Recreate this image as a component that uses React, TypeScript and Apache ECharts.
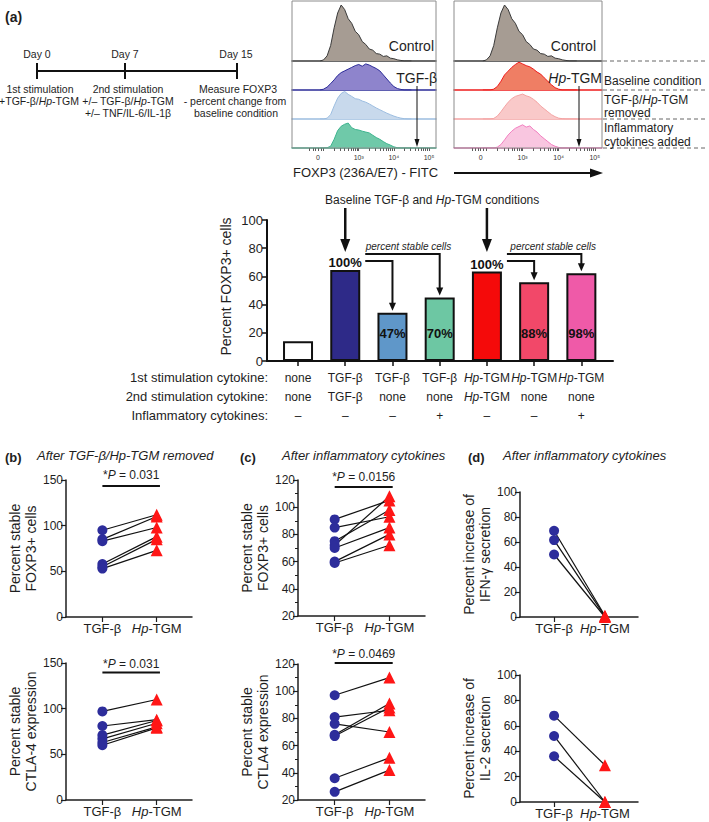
import React, { useEffect, useRef } from 'react';
import * as echarts from 'echarts';

const FONT = 'Liberation Sans, Arial, Helvetica, sans-serif';

// ---------- Histogram data (x in log decades of FOXP3-FITC, y relative count) ----------
const histX = [1.9, 2.0, 2.1, 2.2, 2.3, 2.4, 2.5, 2.6, 2.7, 2.8, 2.9, 3.0, 3.1, 3.2, 3.3, 3.4, 3.5, 3.6, 3.7, 3.8, 3.9, 4.0, 4.1, 4.2, 4.3, 4.4, 4.5];
const histControl = [0, 2, 9, 27, 58, 84, 98, 90, 74, 66, 52, 46, 34, 29, 21, 19, 13, 12, 8, 9, 5, 4, 2, 1, 0, 0, 0];
const histTgf = [0, 3, 10, 22, 35, 50, 60, 66, 72, 78, 84, 88, 82, 90, 86, 80, 74, 66, 52, 38, 24, 12, 5, 2, 0, 0, 0];
const histTgfRemoved = [0, 0, 3, 15, 45, 72, 88, 95, 85, 78, 70, 68, 62, 58, 52, 45, 38, 32, 26, 20, 15, 10, 6, 3, 1, 0, 0];
const histTgfInflam = [0, 0, 1, 6, 30, 60, 75, 82, 86, 70, 64, 62, 58, 55, 52, 44, 36, 30, 22, 15, 10, 4, 1, 0, 0, 0, 0];
const histHp = [0, 0, 0, 3, 12, 30, 52, 65, 78, 88, 96, 90, 84, 80, 72, 62, 55, 42, 30, 18, 8, 3, 0, 0, 0, 0, 0];
const histHpRemoved = [0, 0, 0, 2, 10, 25, 42, 58, 70, 78, 82, 86, 80, 76, 68, 58, 45, 35, 25, 15, 8, 3, 1, 0, 0, 0, 0];
const histHpInflam = [0, 0, 0, 0, 3, 12, 28, 45, 58, 68, 74, 80, 72, 76, 64, 55, 42, 32, 22, 12, 6, 2, 0, 0, 0, 0, 0];
const histLabelValues = [1.84, 3, 4, 5];
const histLabelTexts = ['0', '10³', '10⁴', '10⁵'];
const histTickValues = [1.6, 1.7, 1.76, 1.84, 1.92, 2.0, 2.3, 2.48, 2.6, 2.7, 2.78, 2.85, 2.9, 2.95, 3, 3.3, 3.48, 3.6, 3.7, 3.78, 3.85, 3.9, 3.95, 4, 4.3, 4.48, 4.6, 4.7, 4.78, 4.85, 4.9, 4.95, 5];

// ---------- Bar chart data ----------
const barValues = [14, 64.5, 34.3, 45, 63.4, 55.8, 62.2];
const barPctLabels = ['', '100%', '47%', '70%', '100%', '88%', '98%'];
const stim1 = ['none', 'TGF-β', 'TGF-β', 'TGF-β', 'Hp-TGM', 'Hp-TGM', 'Hp-TGM'];
const stim2 = ['none', 'TGF-β', 'none', 'none', 'Hp-TGM', 'none', 'none'];
const inflam = ['–', '–', '–', '+', '–', '–', '+'];
const rowHeaders = ['1st stimulation cytokine:', '2nd stimulation cytokine:', 'Inflammatory cytokines:'];
const barIdx = [0, 1, 2, 3, 4, 5, 6];

// ---------- Paired panels ----------
const pairCats = ['TGF-β', 'Hp-TGM'];
const bTopTgf = [95, 85, 83, 58, 55, 53];
const bTopHp = [112, 110, 98, 88, 85, 73];
const bBotTgf = [97, 81, 71, 67, 63, 60];
const bBotHp = [110, 88, 87, 84, 80, 79];
const cTopTgf = [91, 85, 75, 72, 70, 60, 59];
const cTopHp = [105, 93, 98, 108, 85, 80, 72];
const cBotTgf = [97, 81, 76, 68, 67, 36, 26];
const cBotHp = [110, 86, 70, 91, 88, 51, 42];
const dTopTgf = [69, 61.5, 50];
const dTopHp = [1, 0.5, 0];
const dBotTgf = [68, 52, 36];
const dBotHp = [29, 0, 0];
const pValues = ['0.031', '0.031', '0.0156', '0.0469'];

const C_DOT = '#2d2d9b';
const C_TRI = '#ff1616';
const INK = '#1e1e1e';

function hpRich(s: string) {
  return s.startsWith('Hp') ? '{i|Hp}{a|' + s.slice(2) + '}' : '{a|' + s + '}';
}

function buildOption() {
  const grid: any[] = [];
  const xAxis: any[] = [];
  const yAxis: any[] = [];
  const series: any[] = [];

  const rowsLeft = [
    { vals: histControl, line: '#3a3a3a', fill: '#a69c93' },
    { vals: histTgf, line: '#2b2b98', fill: '#8e84cc' },
    { vals: histTgfRemoved, line: '#9cbde0', fill: '#c8d9ec' },
    { vals: histTgfInflam, line: '#3fb48f', fill: '#6fc9a9' },
  ];
  const rowsRight = [
    { vals: histControl, line: '#3a3a3a', fill: '#a69c93' },
    { vals: histHp, line: '#ee1c1c', fill: '#ef7e64' },
    { vals: histHpRemoved, line: '#f4a3a3', fill: '#f9c9c9' },
    { vals: histHpInflam, line: '#f27fc0', fill: '#f9c6e0' },
  ];
  const boxes = [
    { left: 292, width: 144, rows: rowsLeft },
    { left: 454, width: 148, rows: rowsRight },
  ];
  const rowTops = [1, 61, 90, 119];
  const rowHeights = [60, 29, 29, 29];
  boxes.forEach((box) =>
    box.rows.forEach((row, r) => {
      const gi = grid.length;
      const bottom = r === 3;
      grid.push({ left: box.left, top: rowTops[r], width: box.width, height: rowHeights[r] });
      xAxis.push({
        type: 'value', gridIndex: gi, min: 1.1, max: 5.2, splitLine: { show: false },
        axisLine: { show: true, onZero: false, lineStyle: { color: row.line, width: 1.5 } },
        axisTick: { show: bottom, customValues: histTickValues, length: 3, lineStyle: { color: '#333', width: 0.8 } },
        axisLabel: {
          show: bottom, customValues: histLabelValues, fontSize: 7, color: '#333', margin: 6, fontFamily: FONT,
          formatter: (v: number) => histLabelTexts[histLabelValues.findIndex((h) => Math.abs(h - v) < 0.01)] ?? '',
        },
      });
      yAxis.push({ type: 'value', gridIndex: gi, min: 0, max: r === 0 ? 105 : 100, show: false });
      series.push({
        type: 'line', xAxisIndex: gi, yAxisIndex: gi, silent: true, symbol: 'none', showSymbol: false,
        data: histX.map((x, k) => [x, row.vals[k]]),
        lineStyle: { color: row.line, width: 1 }, areaStyle: { color: row.fill, opacity: 1 },
      });
    })
  );

  // ---- bar chart (grid 8)
  const axisRich = {
    a: { fontSize: 12, lineHeight: 19, color: INK, fontFamily: FONT },
    i: { fontSize: 12, lineHeight: 19, color: INK, fontFamily: FONT, fontStyle: 'italic' },
  };
  grid.push({ left: 267, top: 220, width: 346, height: 141 });
  xAxis.push({
    type: 'value', gridIndex: 8, min: -0.657, max: 6.67, splitLine: { show: false },
    axisLine: { show: true, onZero: false, lineStyle: { color: '#111', width: 2 } },
    axisTick: { show: true, customValues: barIdx, length: 5, lineStyle: { color: '#111', width: 1.5 } },
    axisLabel: {
      customValues: barIdx, margin: 7,
      formatter: (v: number) => {
        const i = Math.round(v);
        return hpRich(stim1[i]) + '\n' + hpRich(stim2[i]) + '\n' + hpRich(inflam[i]);
      },
      rich: axisRich,
    },
  });
  yAxis.push({
    type: 'value', gridIndex: 8, min: 0, max: 100, interval: 20, splitLine: { show: false },
    axisLine: { show: true, onZero: false, lineStyle: { color: '#111', width: 2 } },
    axisTick: { show: true, length: 5, lineStyle: { color: '#111', width: 1.5 } },
    axisLabel: { fontSize: 13, color: INK, margin: 4, fontFamily: FONT },
    name: 'Percent FOXP3+ cells', nameLocation: 'middle', nameGap: 34,
    nameTextStyle: { fontSize: 14, color: INK, fontFamily: FONT, padding: [0, 0, 0, 8] },
  });
  const barColors = ['#ffffff', '#2e2a88', '#5f97c9', '#6dc7a3', '#f50a0a', '#f24869', '#ef5aa8'];
  series.push({
    type: 'bar', xAxisIndex: 8, yAxisIndex: 8, barWidth: 30, silent: true,
    itemStyle: { borderColor: '#111', borderWidth: 2 },
    data: barValues.map((v, i) => ({
      value: [i, v],
      itemStyle: { color: barColors[i], borderColor: '#111', borderWidth: 2 },
      label: {
        show: barPctLabels[i] !== '',
        position: i === 1 || i === 4 ? 'top' : 'insideBottom',
        distance: i === 1 || i === 4 ? 1 : 21,
        formatter: barPctLabels[i],
        fontWeight: 'bold', fontSize: 13, color: '#111', fontFamily: FONT,
      },
    })),
  });

  // ---- paired panels
  const panels = [
    { rect: { left: 66, top: 480, width: 126, height: 137 }, tgf: bTopTgf, hp: bTopHp, min: 0, max: 150, interval: 50, minor: false, name: 'Percent stable\nFOXP3+ cells' },
    { rect: { left: 66, top: 663, width: 126, height: 137 }, tgf: bBotTgf, hp: bBotHp, min: 0, max: 150, interval: 50, minor: false, name: 'Percent stable\nCTLA-4 expression' },
    { rect: { left: 298, top: 480, width: 127, height: 136 }, tgf: cTopTgf, hp: cTopHp, min: 20, max: 120, interval: 20, minor: true, name: 'Percent stable\nFOXP3+ cells' },
    { rect: { left: 298, top: 664, width: 127, height: 136 }, tgf: cBotTgf, hp: cBotHp, min: 20, max: 120, interval: 20, minor: true, name: 'Percent stable\nCTLA4 expression' },
    { rect: { left: 520, top: 492, width: 118, height: 125 }, tgf: dTopTgf, hp: dTopHp, min: 0, max: 100, interval: 20, minor: false, name: 'Percent increase of\nIFN-γ secretion' },
    { rect: { left: 520, top: 675, width: 118, height: 127 }, tgf: dBotTgf, hp: dBotHp, min: 0, max: 100, interval: 20, minor: false, name: 'Percent increase of\nIL-2 secretion' },
  ];
  const catRich = {
    a: { fontSize: 13, color: INK, fontFamily: FONT },
    i: { fontSize: 13, color: INK, fontFamily: FONT, fontStyle: 'italic' },
  };
  panels.forEach((p) => {
    const gi = grid.length;
    grid.push(p.rect);
    xAxis.push({
      type: 'value', gridIndex: gi, min: -0.67, max: 1.65, splitLine: { show: false },
      axisLine: { show: true, onZero: false, lineStyle: { color: INK, width: 1.5 } },
      axisTick: { show: true, customValues: [0, 1], length: 5, lineStyle: { color: INK, width: 1.2 } },
      axisLabel: { customValues: [0, 1], margin: 5, formatter: (v: number) => hpRich(pairCats[Math.round(v)]), rich: catRich },
    });
    yAxis.push({
      type: 'value', gridIndex: gi, min: p.min, max: p.max, interval: p.interval, splitLine: { show: false },
      axisLine: { show: true, onZero: false, lineStyle: { color: INK, width: 1.5 } },
      axisTick: { show: true, length: 5, lineStyle: { color: INK, width: 1.2 } },
      minorTick: { show: p.minor, splitNumber: 2, length: 3, lineStyle: { color: INK, width: 1 } },
      axisLabel: { fontSize: 12, color: INK, margin: 3, fontFamily: FONT },
      name: p.name, nameLocation: 'middle', nameGap: 22,
      nameTextStyle: { fontSize: 14, lineHeight: 16, color: INK, fontFamily: FONT, align: 'center' },
    });
    p.tgf.forEach((a, k) =>
      series.push({
        type: 'line', xAxisIndex: gi, yAxisIndex: gi, silent: true, symbol: 'none', z: 2,
        data: [[0, a], [1, p.hp[k]]], lineStyle: { color: '#111', width: 1.2 },
      })
    );
    series.push({
      type: 'scatter', xAxisIndex: gi, yAxisIndex: gi, silent: true, z: 3, symbol: 'circle', symbolSize: 10,
      data: p.tgf.map((v) => [0, v]), itemStyle: { color: C_DOT, opacity: 1 },
    });
    series.push({
      type: 'scatter', xAxisIndex: gi, yAxisIndex: gi, silent: true, z: 4, symbol: 'triangle', symbolSize: 12,
      data: p.hp.map((v) => [1, v]), itemStyle: { color: C_TRI, opacity: 1 },
    });
  });

  return {
    animation: false,
    backgroundColor: '#ffffff',
    textStyle: { fontFamily: FONT },
    grid, xAxis, yAxis, series,
  };
}

function buildGraphics(chart: any) {
  const g: any[] = [];
  const P = (gi: number, x: number, y: number) => chart.convertToPixel({ gridIndex: gi }, [x, y]) as number[];
  const rich = (size: number) => ({
    n: { fontSize: size, fontFamily: FONT, fill: INK },
    i: { fontSize: size, fontFamily: FONT, fill: INK, fontStyle: 'italic' },
  });
  const T = (x: number, y: number, text: string, o: any = {}) =>
    g.push({
      type: 'text', x, y, z: 100, silent: true,
      style: {
        text, fill: INK, fontFamily: FONT, fontSize: o.size || 13, fontWeight: o.weight || 'normal',
        fontStyle: o.style || 'normal', align: o.align || 'left', verticalAlign: 'middle',
        rich: o.rich ? rich(o.size || 13) : undefined,
      },
    });
  const L = (x1: number, y1: number, x2: number, y2: number, w = 1, color = '#111', dash?: number[]) =>
    g.push({ type: 'line', z: 100, silent: true, shape: { x1, y1, x2, y2 }, style: { stroke: color, lineWidth: w, lineDash: dash } });
  const PL = (points: number[][], w = 1.5) =>
    g.push({ type: 'polyline', z: 100, silent: true, shape: { points }, style: { stroke: '#111', lineWidth: w, fill: null } });
  const headDown = (x: number, y: number, w: number, h: number) =>
    g.push({ type: 'polygon', z: 101, silent: true, shape: { points: [[x - w / 2, y - h], [x + w / 2, y - h], [x, y]] }, style: { fill: '#111' } });

  // ----- (a) title and timeline
  T(5, 17, '(a)', { size: 14, weight: 'bold' });
  L(37, 71, 237, 71, 2);
  [37, 125, 237].forEach((x) => L(x, 63, x, 79, 2));
  T(37, 54, 'Day 0', { size: 10.5, align: 'center' });
  T(125, 54, 'Day 7', { size: 10.5, align: 'center' });
  T(236, 54, 'Day 15', { size: 10.5, align: 'center' });
  T(40, 89, '{n|1st stimulation}', { size: 10.5, align: 'center', rich: true });
  T(39, 101, '{n|+TGF-β/}{i|Hp}{n|-TGM}', { size: 10.5, align: 'center', rich: true });
  T(128, 89, '{n|2nd stimulation}', { size: 10.5, align: 'center', rich: true });
  T(128, 101, '{n|+/– TGF-β/}{i|Hp}{n|-TGM}', { size: 10.5, align: 'center', rich: true });
  T(128, 113, '{n|+/– TNF/IL-6/IL-1β}', { size: 10.5, align: 'center', rich: true });
  T(238, 89, 'Measure FOXP3', { size: 10.5, align: 'center' });
  T(235, 101, '- percent change from', { size: 10.5, align: 'center' });
  T(236, 113, 'baseline condition', { size: 10.5, align: 'center' });

  // ----- histogram boxes
  g.push({ type: 'rect', z: 99, silent: true, shape: { x: 292, y: 1, width: 144, height: 147 }, style: { fill: 'none', stroke: '#8c8c8c', lineWidth: 1 } });
  g.push({ type: 'rect', z: 99, silent: true, shape: { x: 454, y: 1, width: 148, height: 147 }, style: { fill: 'none', stroke: '#8c8c8c', lineWidth: 1 } });
  [61, 90, 119, 148].forEach((y) => L(603, y, 706, y, 1, '#666', [4, 3]));
  T(434, 46, 'Control', { size: 14, align: 'right' });
  T(596, 46, 'Control', { size: 14, align: 'right' });
  T(437, 78, 'TGF-β', { size: 14, align: 'right' });
  T(602, 78, '{i|Hp}{n|-TGM}', { size: 14, align: 'right', rich: true });
  L(417, 86, 417, 140, 1);
  headDown(417, 147, 5, 8);
  L(579, 86, 579, 140, 1);
  headDown(579, 147, 5, 8);
  T(604, 81, 'Baseline condition', { size: 12 });
  T(604, 100, '{n|TGF-β/}{i|Hp}{n|-TGM}', { size: 12, rich: true });
  T(604, 113, 'removed', { size: 12 });
  T(604, 128, 'Inflammatory', { size: 12 });
  T(604, 142, 'cytokines added', { size: 12 });
  T(293, 172, 'FOXP3 (236A/E7) - FITC', { size: 13 });
  L(454, 173, 592, 173, 2);
  g.push({ type: 'polygon', z: 101, silent: true, shape: { points: [[590, 168.5], [603, 173], [590, 177.5]] }, style: { fill: '#111' } });

  // ----- bar chart annotations (anchored to bar data)
  const bx = barIdx.map((i) => P(8, i, 0)[0]);
  const btop = barIdx.map((i) => P(8, i, barValues[i])[1]);
  T((bx[1] + bx[4]) / 2 + 16, 200, '{n|Baseline TGF-β and }{i|Hp}{n|-TGM conditions}', { size: 12, align: 'center', rich: true });
  [1, 4].forEach((i) => {
    L(bx[i], 208, bx[i], 240, 2.5);
    headDown(bx[i], 252, 10, 13);
  });
  const bracket = (from: number, to: number, y: number) => {
    PL([[bx[from] + 20, y], [bx[to], y], [bx[to], btop[to] - 9]], 2);
    headDown(bx[to], btop[to] - 2, 7, 8);
  };
  bracket(1, 3, 254);
  bracket(1, 2, 261);
  bracket(4, 6, 254);
  bracket(4, 5, 261);
  T(bx[2] + 16, 246, 'percent stable cells', { size: 10, style: 'italic', align: 'center' });
  T(bx[5] + 19, 246, 'percent stable cells', { size: 10, style: 'italic', align: 'center' });
  rowHeaders.forEach((h, r) => T(268, 377 + r * 19, h, { size: 13, align: 'right' }));

  // ----- panels (b) (c) (d) titles
  T(5, 457, '(b)', { size: 13, weight: 'bold' });
  T(37, 455, 'After TGF-β/Hp-TGM removed', { size: 13, style: 'italic' });
  T(240, 457, '(c)', { size: 13, weight: 'bold' });
  T(282, 455, 'After inflammatory cytokines', { size: 13, style: 'italic' });
  T(468, 457, '(d)', { size: 13, weight: 'bold' });
  T(503, 455, 'After inflammatory cytokines', { size: 13, style: 'italic' });

  // ----- significance bars
  const sig = [
    { gi: 9, textDy: -5, lineDy: 6 },
    { gi: 10, textDy: 1, lineDy: 9.5 },
    { gi: 11, textDy: -3, lineDy: 7 },
    { gi: 12, textDy: -10, lineDy: -1 },
  ];
  sig.forEach((s, k) => {
    const yMaxPix = chart.convertToPixel({ gridIndex: s.gi }, [0, k < 2 ? 150 : 120])[1];
    const x0 = P(s.gi, 0, 0)[0];
    const x1 = P(s.gi, 1.06, 0)[0];
    L(x0, yMaxPix + s.lineDy, x1, yMaxPix + s.lineDy, 2);
    T((x0 + x1) / 2, yMaxPix + s.textDy, '{n|*}{i|P}{n| = ' + pValues[k] + '}', { size: 12, align: 'center', rich: true });
  });
  return g;
}

export default function App() {
  const ref = useRef<HTMLDivElement>(null);
  useEffect(() => {
    const chart = echarts.init(ref.current!, null, { renderer: 'svg' });
    chart.setOption(buildOption());
    chart.setOption({ graphic: buildGraphics(chart) });
    return () => chart.dispose();
  }, []);
  return <div ref={ref} style={{ position: 'absolute', left: 0, top: 0, width: 709, height: 822, background: '#fff' }} />;
}
